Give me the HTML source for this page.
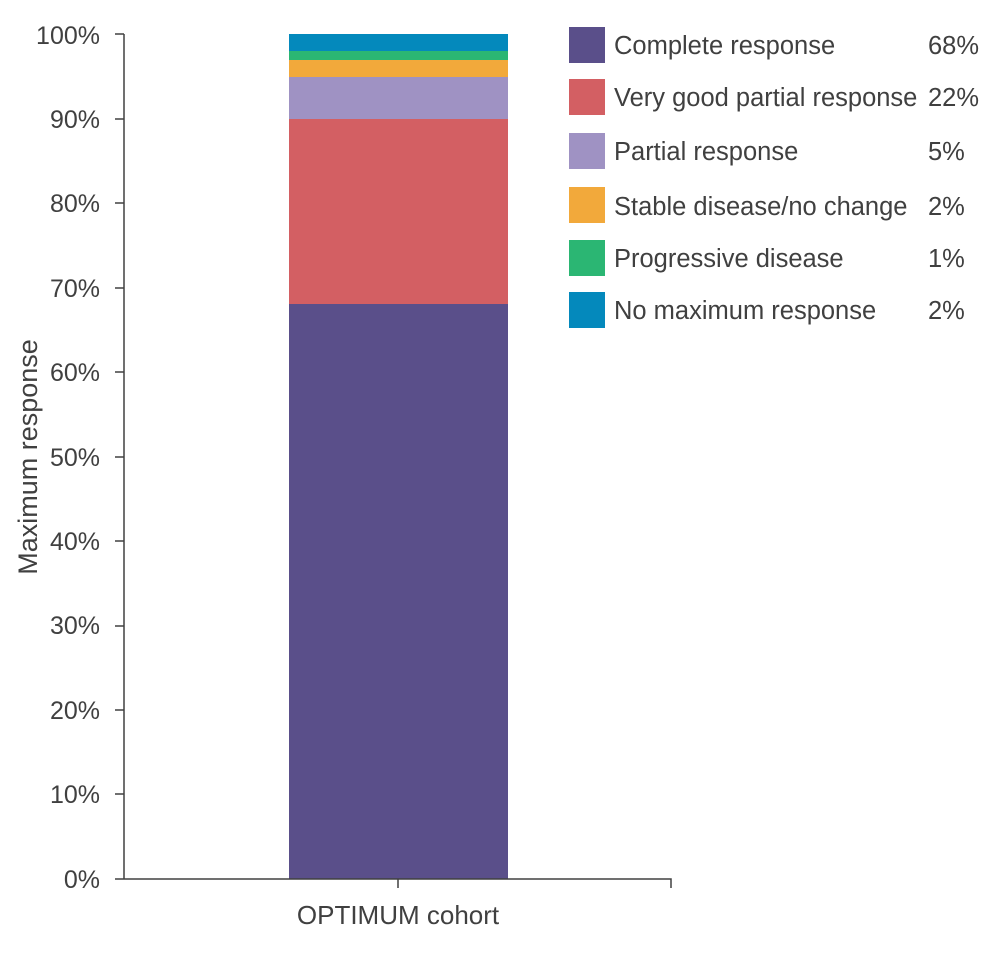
<!DOCTYPE html>
<html><head><style>
body{margin:0;background:#fff;}
svg text{font-family:"Liberation Sans",sans-serif;fill:#404040;}
</style></head><body>
<svg width="1000" height="951" xmlns="http://www.w3.org/2000/svg">
<g font-size="25" text-anchor="end">
<text x="100" y="888">0%</text>
<text x="100" y="803">10%</text>
<text x="100" y="719">20%</text>
<text x="100" y="634">30%</text>
<text x="100" y="550">40%</text>
<text x="100" y="466">50%</text>
<text x="100" y="381">60%</text>
<text x="100" y="297">70%</text>
<text x="100" y="212">80%</text>
<text x="100" y="128">90%</text>
<text x="100" y="44">100%</text>
</g>
<text transform="translate(37,457) rotate(-90)" font-size="27" text-anchor="middle">Maximum response</text>
<rect x="289" y="304" width="219" height="575" fill="#5a4f8a"/>
<rect x="289" y="119" width="219" height="185" fill="#d35f63"/>
<rect x="289" y="77" width="219" height="42" fill="#9f92c3"/>
<rect x="289" y="60" width="219" height="17" fill="#f2a93b"/>
<rect x="289" y="51" width="219" height="9" fill="#2bb673"/>
<rect x="289" y="34" width="219" height="17" fill="#0489bc"/>
<g stroke="#404040" stroke-width="1.5" fill="none">
<path d="M124 34V879"/>
<path d="M115 879H671V888M398 879V888"/>
<path d="M115 34H124M115 119H124M115 203H124M115 288H124M115 372H124M115 457H124M115 541H124M115 626H124M115 710H124M115 794H124"/>
</g>
<text x="398" y="924" font-size="26" text-anchor="middle">OPTIMUM cohort</text>
<g font-size="25.5">
<rect x="569" y="27" width="36" height="36" fill="#5a4f8a"/>
<text x="614" y="54">Complete response</text><text x="928" y="54">68%</text>
<rect x="569" y="79" width="36" height="36" fill="#d35f63"/>
<text x="614" y="106">Very good partial response</text><text x="928" y="106">22%</text>
<rect x="569" y="133" width="36" height="36" fill="#9f92c3"/>
<text x="614" y="160">Partial response</text><text x="928" y="160">5%</text>
<rect x="569" y="187" width="36" height="36" fill="#f2a93b"/>
<text x="614" y="215">Stable disease/no change</text><text x="928" y="215">2%</text>
<rect x="569" y="240" width="36" height="36" fill="#2bb673"/>
<text x="614" y="267">Progressive disease</text><text x="928" y="267">1%</text>
<rect x="569" y="292" width="36" height="36" fill="#0489bc"/>
<text x="614" y="319">No maximum response</text><text x="928" y="319">2%</text>
</g>
</svg>
</body></html>
